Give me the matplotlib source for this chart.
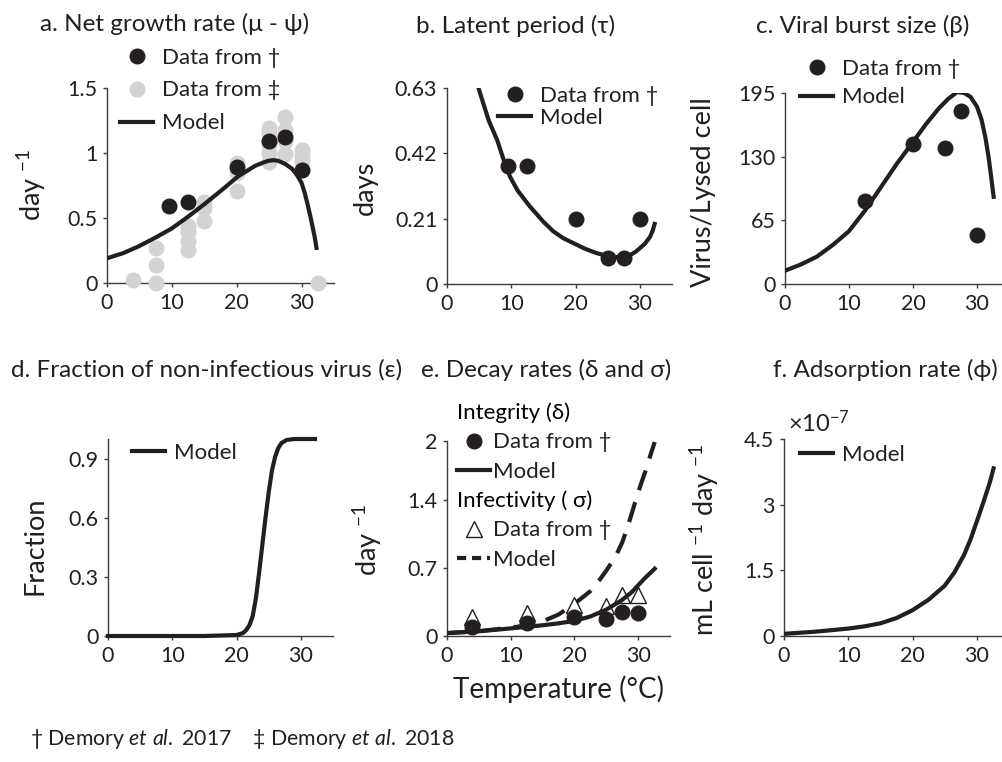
import matplotlib
matplotlib.use("Agg")
import matplotlib.pyplot as plt
from matplotlib.lines import Line2D

plt.rcParams['font.family'] = ['Lato', 'DejaVu Sans']
plt.rcParams['mathtext.fontset'] = 'custom'
plt.rcParams['mathtext.rm'] = 'Lato'
plt.rcParams['mathtext.it'] = 'Lato:italic'

BLACK = '#231f20'
GREY = '#d3d3d3'
AXC = '#3c3c3c'

W, H = 1002, 762

# ---- panel a: net growth rate ----
a_black_x = [9.5, 12.5, 20, 25, 27.5, 30]
a_black_y = [0.59, 0.62, 0.89, 1.09, 1.12, 0.87]
a_grey_x = [4, 7.5, 7.5, 7.5, 12.5, 12.5, 12.5, 12.5, 15, 15, 15, 20, 20, 20,
            25, 25, 25, 25, 25, 27.5, 27.5, 27.5, 27.5, 30, 30, 30, 32.5]
a_grey_y = [0.02, 0.0, 0.14, 0.27, 0.25, 0.32, 0.39, 0.44, 0.48, 0.58, 0.62, 0.71, 0.85, 0.92,
            0.93, 1.0, 1.07, 1.15, 1.19, 0.99, 1.09, 1.18, 1.28, 0.94, 0.98, 1.02, 0.0]
a_model_x = [0, 2.5, 4.8, 7.5, 10, 12.5, 15.1, 17.7, 20.2, 22.8, 24, 24.9, 25.7, 26.4,
             27.5, 28.5, 29.3, 30, 30.5, 31, 31.5, 32, 32.3]
a_model_y = [0.19, 0.23, 0.28, 0.35, 0.42, 0.51, 0.61, 0.715, 0.82, 0.9, 0.925, 0.94, 0.945, 0.94,
             0.915, 0.88, 0.83, 0.77, 0.69, 0.59, 0.48, 0.36, 0.27]

# ---- panel b: latent period ----
b_data_x = [9.5, 12.5, 20, 25, 27.5, 30]
b_data_y = [0.38, 0.38, 0.21, 0.085, 0.085, 0.21]
b_model_x = [4.9, 5.5, 6.5, 7.8, 8.8, 9.8, 11, 12.9, 15, 16.5, 18.1, 20, 21.5, 23.3, 25,
             26.5, 27.4, 28.5, 29.3, 30, 30.8, 31.6, 32, 32.3]
b_model_y = [0.63, 0.59, 0.525, 0.463, 0.4, 0.345, 0.3, 0.249, 0.2, 0.17, 0.147, 0.128, 0.113,
             0.099, 0.09, 0.086, 0.085, 0.093, 0.103, 0.115, 0.13, 0.152, 0.172, 0.193]

# ---- panel c: viral burst size ----
c_data_x = [12.5, 20, 25, 27.5, 30]
c_data_y = [85, 143, 139, 177, 50]
c_model_x = [0, 2.5, 5, 7.5, 10, 12.5, 15, 17.5, 20, 22, 24, 25.5, 26.9, 28, 29, 30,
             30.7, 31.3, 31.8, 32.2, 32.6]
c_model_y = [13.6, 20, 28, 40, 54, 75, 99, 123, 145, 163, 179, 189, 196, 195, 191, 181,
             168, 150, 130, 110, 89]

# ---- panel d: fraction of non-infectious virus ----
d_model_x = [0, 15, 20, 21, 21.5, 22, 22.5, 23, 23.5, 24, 24.5, 25, 25.5, 26, 26.5, 27,
             27.8, 29, 32.2]
d_model_y = [0, 0, 0.005, 0.015, 0.03, 0.055, 0.1, 0.19, 0.32, 0.46, 0.6, 0.73, 0.84, 0.91,
             0.955, 0.98, 0.995, 1.0, 1.0]

# ---- panel e: decay rates ----
e_data_x = [4, 12.5, 20, 25, 27.5, 30]
e_delta_y = [0.095, 0.13, 0.19, 0.17, 0.25, 0.24]
e_sigma_y = [0.2, 0.24, 0.32, 0.31, 0.42, 0.42]
e_delta_mx = [0, 5, 10, 15, 17.5, 20, 22.5, 25, 26.5, 27.5, 29, 30, 31, 32.6]
e_delta_my = [0.03, 0.048, 0.078, 0.11, 0.13, 0.155, 0.2, 0.27, 0.33, 0.37, 0.45, 0.52, 0.59, 0.69]
e_sigma_mx = [0, 5, 10, 12.5, 15, 17.5, 20, 22.5, 24, 25, 26.5, 27.5, 28.5, 29.8, 30.5,
              31.3, 32, 32.6]
e_sigma_my = [0.03, 0.05, 0.085, 0.11, 0.15, 0.22, 0.33, 0.46, 0.58, 0.67, 0.82, 0.96, 1.15,
              1.43, 1.57, 1.72, 1.87, 1.99]

# ---- panel f: adsorption rate (units of 1e-7) ----
f_model_x = [0, 5, 10, 12.5, 15, 17.5, 20, 22.5, 25, 26.5, 28, 29, 30, 31, 32, 32.6]
f_model_y = [0.05, 0.1, 0.17, 0.22, 0.29, 0.41, 0.59, 0.83, 1.15, 1.45, 1.85, 2.2, 2.62,
             3.05, 3.5, 3.83]

xticks = [0, 10, 20, 30]


def fx(px):
    return px / W


def fy(py):
    return 1 - py / H


def make_axes(fig, left, right, top, bottom, ymax, yticks, yticklabels):
    ax = fig.add_axes([fx(left), fy(bottom), fx(right - left), (bottom - top) / H])
    ax.set_xlim(0, 35)
    ax.set_ylim(0, ymax)
    ax.set_xticks(xticks)
    ax.set_yticks(yticks)
    ax.set_yticklabels(yticklabels)
    for s in ['top', 'right']:
        ax.spines[s].set_visible(False)
    for s in ['left', 'bottom']:
        ax.spines[s].set_color(AXC)
        ax.spines[s].set_linewidth(1.0)
    ax.tick_params(direction='out', length=3, width=1, color=AXC,
                   labelsize=15.5, labelcolor=BLACK, pad=4)
    ax.patch.set_visible(False)
    return ax


def place_legend(ax, handles, labels, left, cy, spacing, textpad=0.4, title=None):
    leg = ax.legend(handles, labels, loc='center left',
                    bbox_to_anchor=(fx(left), fy(cy)), bbox_transform=fig.transFigure,
                    frameon=False, borderpad=0, borderaxespad=0, handlelength=1.5,
                    handletextpad=textpad, labelspacing=spacing, fontsize=16,
                    title=title, title_fontsize=16, alignment='left')
    for t in leg.get_texts():
        t.set_color(BLACK)
    return leg


dot_h = Line2D([], [], marker='o', ls='none', color=BLACK, markersize=10.5)
grey_h = Line2D([], [], marker='o', ls='none', color=GREY, markersize=10.5)
line_h = Line2D([], [], color=BLACK, lw=3)
dash_h = Line2D([], [], color=BLACK, lw=3, dashes=(2.2, 1.4))
tri_h = Line2D([], [], marker='^', ls='none', mfc='white', mec=BLACK, mew=1, markersize=11)

fig = plt.figure(figsize=(W / 100, H / 100), dpi=100)

# a
ax = make_axes(fig, 107, 334, 88, 283, 1.5, [0, 0.5, 1, 1.5], ['0', '0.5', '1', '1.5'])
ax.plot(a_grey_x, a_grey_y, 'o', color=GREY, markersize=10.5, clip_on=False, zorder=3)
ax.plot(a_model_x, a_model_y, color=BLACK, lw=3, zorder=4)
ax.plot(a_black_x, a_black_y, 'o', color=BLACK, markersize=10.5, clip_on=False, zorder=5)
place_legend(ax, [dot_h, grey_h, line_h], ['Data from †', 'Data from ‡', 'Model'], 120, 90.5, 0.58)

# b
ax = make_axes(fig, 447, 672, 88, 284, 0.63, [0, 0.21, 0.42, 0.63], ['0', '0.21', '0.42', '0.63'])
ax.plot(b_model_x, b_model_y, color=BLACK, lw=3, zorder=4)
ax.plot(b_data_x, b_data_y, 'o', color=BLACK, markersize=10.5, clip_on=False, zorder=5)
place_legend(ax, [dot_h, line_h], ['Data from †', 'Model'], 498, 106.7, 0.08)

# c
ax = make_axes(fig, 785, 1009, 93, 284, 195, [0, 65, 130, 195], ['0', '65', '130', '195'])
ax.plot(c_model_x, c_model_y, color=BLACK, lw=3, zorder=4)
ax.plot(c_data_x, c_data_y, 'o', color=BLACK, markersize=10.5, clip_on=False, zorder=5)
place_legend(ax, [dot_h, line_h], ['Data from †', 'Model'], 800, 83, 0.4)

# d
ax = make_axes(fig, 108, 333, 439, 636, 1.0, [0, 0.3, 0.6, 0.9], ['0', '0.3', '0.6', '0.9'])
ax.plot(d_model_x, d_model_y, color=BLACK, lw=3, zorder=4, clip_on=False)
place_legend(ax, [line_h], ['Model'], 132, 453, 0.3)

# e
ax = make_axes(fig, 447, 670, 441, 636, 2.0, [0, 0.7, 1.4, 2], ['0', '0.7', '1.4', '2'])
ax.plot(e_sigma_mx, e_sigma_my, color=BLACK, lw=3, dashes=(5, 3), zorder=3)
ax.plot(e_data_x, e_sigma_y, '^', mfc='white', mec=BLACK, mew=1, markersize=11,
        clip_on=False, zorder=4)
ax.plot(e_delta_mx, e_delta_my, color=BLACK, lw=3, zorder=5)
ax.plot(e_data_x, e_delta_y, 'o', color=BLACK, markersize=10.5, clip_on=False, zorder=6)
leg1 = place_legend(ax, [dot_h, line_h], ['Data from †', 'Model'], 457, 442, 0.42,
                    textpad=0.14, title='Integrity (δ)')
ax.add_artist(leg1)
place_legend(ax, [tri_h, dash_h], ['Data from †', 'Model'], 457, 530, 0.42,
             textpad=0.14, title='Infectivity ( σ)')
ax.set_xlabel('Temperature (°C)', fontsize=20, color=BLACK, labelpad=7)

# f
ax = make_axes(fig, 784, 1009, 439, 636, 4.5, [0, 1.5, 3, 4.5], ['0', '1.5', '3', '4.5'])
ax.plot(f_model_x, f_model_y, color=BLACK, lw=3, zorder=4)
place_legend(ax, [line_h], ['Model'], 800, 455, 0.3)
fig.text(fx(788), fy(432), r'$\times$10$^{-7}$', fontsize=17, color=BLACK, va='baseline')

# titles
titles = [('a. Net growth rate (μ - ψ)', 175, 31), ('b. Latent period (τ)', 516, 33),
          ('c. Viral burst size (β)', 863, 33), ('d. Fraction of non-infectious virus (ε)', 207, 377),
          ('e. Decay rates (δ and σ)', 546, 377), ('f. Adsorption rate (ϕ)', 885, 377)]
for txt, x, y in titles:
    fig.text(fx(x), fy(y), txt, fontsize=17.5, color=BLACK, ha='center', va='baseline')

# y labels
ylabels = [(r'day $^{-1}$', 32, 185), ('days', 365, 188), ('Virus/Lysed cell', 703, 192),
           ('Fraction', 35, 546), (r'day $^{-1}$', 368, 540),
           (r'mL cell $^{-1}$ day $^{-1}$', 705, 540)]
for txt, x, y in ylabels:
    fig.text(fx(x), fy(y), txt, fontsize=19.5, color=BLACK, rotation=90,
             ha='center', va='center')

fig.text(fx(30), fy(745), r'† Demory $\it{et\ al.}$ 2017    ‡ Demory $\it{et\ al.}$ 2018',
         fontsize=15.3, color=BLACK, va='baseline')

fig.savefig('out.png', dpi=100)
